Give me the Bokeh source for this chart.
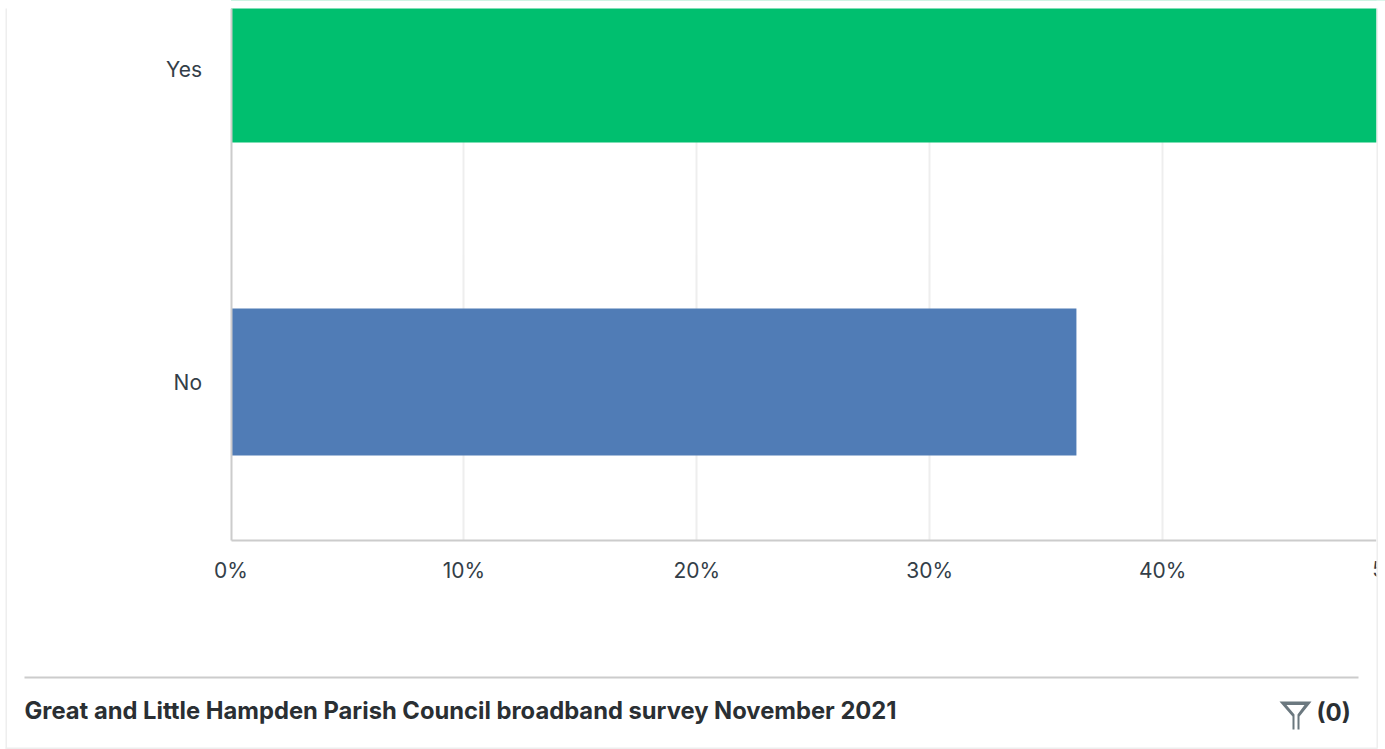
from bokeh.embed import file_html
from bokeh.models import BoxAnnotation, FixedTicker, Label, PolyAnnotation, Range1d
from bokeh.plotting import figure
from bokeh.resources import INLINE

# Survey responses, in percent
categories = ["No", "Yes"]
shares = [36.3, 63.7]
bar_colors = ["#507cb6", "#00bf6f"]
x_ticks = [0, 10, 20, 30, 40]
footer_title = "Great and Little Hampden Parish Council broadband survey November 2021"
filter_count = "(0)"

WIDTH, HEIGHT = 1385, 749
LEFT, RIGHT, TOP, BOTTOM = 230.5, 1376, 8, 540
PX_PER_PCT = 23.29
PX_PER_ROW = 313
NO_ROW_Y = 381.5

TICK_FONT = "Inter"
TICK_SIZE = "21px"
INK = "#333e48"


def row_at(px):
    return (NO_ROW_Y - px) / PX_PER_ROW


# The plot frame fills the page so the footer can share it; axes sit at fixed locations
p = figure(
    width=WIDTH, height=HEIGHT, output_backend="svg", toolbar_location=None,
    x_range=Range1d(-LEFT / PX_PER_PCT, (WIDTH - LEFT) / PX_PER_PCT),
    y_range=Range1d(row_at(HEIGHT), row_at(0)),
    min_border=0, outline_line_color=None,
    background_fill_color="white", border_fill_color="white",
)

p.hbar(y=list(range(len(categories))), right=shares, left=0, height=147 / PX_PER_ROW,
       color=bar_colors, line_color=None)

# Horizontal percentage axis
p.xaxis.fixed_location = row_at(BOTTOM)
p.xaxis.bounds = (0, (RIGHT - LEFT) / PX_PER_PCT)
p.xaxis.ticker = FixedTicker(ticks=x_ticks)
p.xaxis.major_label_overrides = {t: f"{t}%" for t in x_ticks}
p.xaxis.major_tick_line_color = None
p.xaxis.minor_tick_line_color = None
p.xaxis.axis_line_color = "#cccccc"
p.xaxis.axis_line_width = 2
p.xaxis.major_label_text_font = TICK_FONT
p.xaxis.major_label_text_font_size = TICK_SIZE
p.xaxis.major_label_text_color = INK
p.xaxis.major_label_standoff = 11

# Category axis
p.yaxis.fixed_location = 0
p.yaxis.bounds = (row_at(BOTTOM), row_at(TOP))
p.yaxis.ticker = FixedTicker(ticks=list(range(len(categories))))
p.yaxis.major_label_overrides = dict(enumerate(categories))
p.yaxis.major_tick_line_color = None
p.yaxis.minor_tick_line_color = None
p.yaxis.axis_line_color = "#cccccc"
p.yaxis.axis_line_width = 2
p.yaxis.major_label_text_font = TICK_FONT
p.yaxis.major_label_text_font_size = TICK_SIZE
p.yaxis.major_label_text_color = INK
p.yaxis.major_label_standoff = 23

p.ygrid.visible = False
p.xgrid.ticker = FixedTicker(ticks=x_ticks[1:])
p.xgrid.cross_bounds = (row_at(BOTTOM), row_at(TOP))
p.xgrid.grid_line_color = "#eeeeee"
p.xgrid.grid_line_width = 2


def rule(left, right, top, bottom, color):
    p.add_layout(BoxAnnotation(
        left=left, right=right, top=top, bottom=bottom,
        left_units="canvas", right_units="canvas", top_units="canvas", bottom_units="canvas",
        fill_color=color, fill_alpha=1, line_color=None, level="overlay",
    ))


def shape(xs, ys, color):
    p.add_layout(PolyAnnotation(
        xs=xs, ys=ys, xs_units="canvas", ys_units="canvas",
        fill_color=color, fill_alpha=1, line_color=None, level="overlay",
    ))


# Tick label running off the edge of the card
p.add_layout(Label(x=50, y=569, y_units="canvas", text="50%", text_font=TICK_FONT,
                   text_font_size=TICK_SIZE, text_color=INK, text_align="center",
                   text_baseline="middle"))

# Masks where the scrolled card cuts the chart off
rule(1376, WIDTH, 0, HEIGHT, "white")
rule(0, WIDTH, 0, TOP, "white")

# Card edges and footer divider
rule(5, 6.5, TOP, 748, "#eeeeee")
rule(1376, 1377.5, TOP, 748, "#eeeeee")
rule(5, 1377, 747, 748.5, "#eeeeee")
rule(24, 1358, 676, 678, "#cccccc")

footer_title_label = Label(x=24, y=710, x_units="canvas", y_units="canvas", text=footer_title,
                           text_font="Inter", text_font_size="23.76px", text_font_style="bold",
                           text_color="#2a2f33", text_baseline="middle")
footer_title_label.level = "overlay"
p.add_layout(footer_title_label)
count_label = Label(x=1316, y=712, x_units="canvas", y_units="canvas", text=filter_count,
                    text_font="Inter", text_font_size="24px", text_font_style="bold",
                    text_color="#2a2f33", text_baseline="middle")
count_label.level = "overlay"
p.add_layout(count_label)

# Funnel icon: dark outline with a white interior
shape([1279, 1311, 1299, 1299, 1292, 1292], [701, 701, 716, 729, 729, 716], "#6b787f")
shape([1286, 1304, 1297, 1297, 1294, 1294], [704.5, 704.5, 714, 729.5, 729.5, 714], "white")

open("out.html", "w").write(file_html(p, INLINE))
